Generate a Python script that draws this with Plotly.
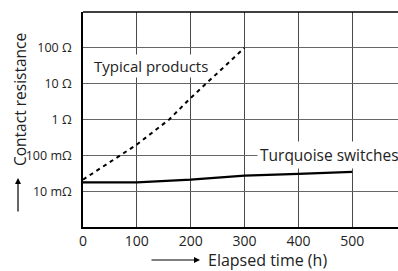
import plotly.graph_objects as go

# Data
typical_hours = [0, 100, 160, 200, 300]
typical_ohm = [0.021, 0.2, 1.0, 4.0, 100]

turq_hours = [0, 100, 200, 300, 400, 500]
turq_ohm = [0.0177, 0.0177, 0.021, 0.027, 0.0305, 0.0347]

x_ticks = [0, 100, 200, 300, 400, 500]
y_tickvals = [0.01, 0.1, 1, 10, 100]
y_ticktext = ["10 mΩ", "100 mΩ", "1 Ω", "10 Ω", "100 Ω"]

FONT = "Open Sans"
TXT = "#222"

fig = go.Figure()
fig.add_trace(go.Scatter(x=typical_hours, y=typical_ohm, mode="lines",
                         line=dict(color="black", width=2, dash="4px,4px"),
                         showlegend=False, hoverinfo="skip"))
fig.add_trace(go.Scatter(x=turq_hours, y=turq_ohm, mode="lines",
                         line=dict(color="black", width=2.2),
                         showlegend=False, hoverinfo="skip"))

fig.update_layout(
    width=398, height=271,
    margin=dict(l=83, r=0, t=12, b=44, autoexpand=False),
    paper_bgcolor="white", plot_bgcolor="white",
    font=dict(family=FONT, color=TXT),
    xaxis=dict(range=[0, 585], tickvals=x_ticks, showgrid=True, automargin=False,
               gridcolor="#4a4a4a", gridwidth=1, zeroline=False,
               showline=True, linecolor="black", linewidth=1.5,
               ticks="outside", ticklen=0, ticklabelstandoff=0,
               tickfont=dict(size=14, family=FONT, color=TXT)),
    yaxis=dict(type="log", range=[-3, 3], tickvals=y_tickvals, ticktext=y_ticktext,
               showgrid=True, gridcolor="#666666", gridwidth=1, zeroline=False,
               automargin=False,
               showline=True, linecolor="black", linewidth=1.5,
               ticks="outside", ticklen=0, ticklabelstandoff=7,
               tickfont=dict(size=12.5, family=FONT, color=TXT)),
)

# top border
fig.add_shape(type="line", xref="paper", yref="paper", x0=0, x1=1, y0=1, y1=1,
              line=dict(color="black", width=1.5))

fig.add_annotation(x=17, y=1.49, xref="x", yref="y", text="Typical products",
                   showarrow=False, xanchor="left", yanchor="middle",
                   bgcolor="white", borderpad=1,
                   font=dict(size=15, family=FONT, color=TXT))
fig.add_annotation(x=324, y=-0.98, xref="x", yref="y", text="Turquoise switches",
                   showarrow=False, xanchor="left", yanchor="middle",
                   bgcolor="white", borderpad=2,
                   font=dict(size=15.5, family=FONT, color=TXT))

# x title with arrow
fig.add_annotation(x=(206 - 83) / 315, y=(227 - 260) / 215, xref="paper", yref="paper",
                   text="Elapsed time (h)", showarrow=False, xanchor="left", yanchor="middle",
                   font=dict(size=16, family=FONT, color=TXT))
fig.add_annotation(x=(200 - 83) / 315, y=(227 - 260) / 215, xref="paper", yref="paper",
                   text="", showarrow=True, ax=-50, ay=0, arrowhead=2, arrowsize=1,
                   arrowwidth=1.2, arrowcolor="black")

# y title with arrow
fig.add_annotation(x=(20 - 83) / 315, y=(227 - 100) / 215, xref="paper", yref="paper",
                   text="Contact resistance", textangle=-90, showarrow=False,
                   xanchor="center", yanchor="middle",
                   font=dict(size=15.5, family=FONT, color=TXT))
fig.add_annotation(x=(18 - 83) / 315, y=(227 - 178) / 215, xref="paper", yref="paper",
                   text="", showarrow=True, ax=0, ay=35, arrowhead=2, arrowsize=1,
                   arrowwidth=1.2, arrowcolor="black")

fig.write_html("out.html", config={"displayModeBar": False},
               post_script="document.body.style.margin='0';")
